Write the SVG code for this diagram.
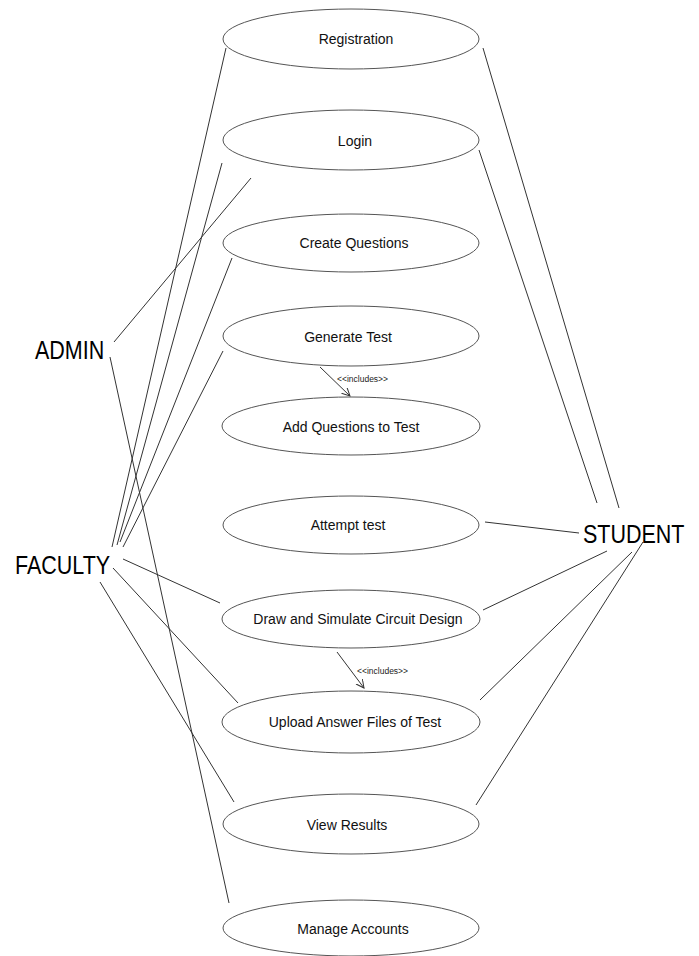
<svg xmlns="http://www.w3.org/2000/svg" width="699" height="956" viewBox="0 0 699 956">
<style>
.uc{fill:#ffffff;stroke:#555;stroke-width:1}
.ul{font-family:"Liberation Sans",Arial,sans-serif;font-size:14px;fill:#111;text-anchor:middle}
.act{font-family:"Liberation Sans",Arial,sans-serif;font-size:21.5px;fill:#000}
.ln{stroke:#333;stroke-width:1;fill:none}
.inc{font-family:"Liberation Sans",Arial,sans-serif;font-size:8.5px;fill:#222}
</style>
<defs>
<marker id="open" markerWidth="10" markerHeight="10" refX="8" refY="4" orient="auto" markerUnits="userSpaceOnUse">
<path d="M0,0 L8,4 L0,8" fill="none" stroke="#333" stroke-width="1"/>
</marker>
</defs>
<rect width="699" height="956" fill="#ffffff"/>
<g id="connectors">
<line class="ln" x1="114" y1="342" x2="251" y2="178"/>
<line class="ln" x1="110" y1="357" x2="229" y2="903"/>
<line class="ln" x1="112" y1="547" x2="226" y2="48"/>
<line class="ln" x1="117" y1="545" x2="222" y2="163"/>
<line class="ln" x1="120" y1="542" x2="232" y2="258"/>
<line class="ln" x1="123" y1="547" x2="223" y2="351"/>
<line class="ln" x1="123" y1="559" x2="220" y2="603"/>
<line class="ln" x1="113" y1="568" x2="238" y2="703"/>
<line class="ln" x1="100" y1="582" x2="234" y2="802"/>
<line class="ln" x1="619" y1="508" x2="483" y2="48"/>
<line class="ln" x1="597" y1="503" x2="479" y2="150"/>
<line class="ln" x1="579" y1="533" x2="485" y2="522"/>
<line class="ln" x1="607" y1="551" x2="483" y2="610"/>
<line class="ln" x1="632" y1="552" x2="480" y2="700"/>
<line class="ln" x1="643" y1="542" x2="476" y2="805"/>
<line class="ln" x1="320" y1="367" x2="350" y2="396" marker-end="url(#open)"/>
<text class="inc" x="337" y="382">&lt;&lt;includes&gt;&gt;</text>
<line class="ln" x1="337" y1="652" x2="364" y2="688" marker-end="url(#open)"/>
<text class="inc" x="357" y="674">&lt;&lt;includes&gt;&gt;</text>
</g>
<g id="registration"><ellipse class="uc" cx="351" cy="39" rx="128" ry="30"/><text class="ul" x="356" y="44">Registration</text></g>
<g id="login"><ellipse class="uc" cx="351" cy="140" rx="128" ry="30"/><text class="ul" x="355" y="146">Login</text></g>
<g id="create-questions"><ellipse class="uc" cx="351" cy="243" rx="128" ry="29"/><text class="ul" x="354" y="248">Create Questions</text></g>
<g id="generate-test"><ellipse class="uc" cx="351" cy="336" rx="128" ry="30"/><text class="ul" x="348" y="342">Generate Test</text></g>
<g id="add-questions"><ellipse class="uc" cx="351" cy="426" rx="129" ry="29"/><text class="ul" x="351" y="432">Add Questions to Test</text></g>
<g id="attempt-test"><ellipse class="uc" cx="351" cy="525" rx="128" ry="29"/><text class="ul" x="348" y="530">Attempt test</text></g>
<g id="draw-simulate"><ellipse class="uc" cx="351" cy="619" rx="129" ry="29"/><text class="ul" x="358" y="624">Draw and Simulate Circuit Design</text></g>
<g id="upload-answer"><ellipse class="uc" cx="351" cy="722" rx="129" ry="31"/><text class="ul" x="355" y="727">Upload Answer Files of Test</text></g>
<g id="view-results"><ellipse class="uc" cx="351" cy="824" rx="128" ry="30"/><text class="ul" x="347" y="830">View Results</text></g>
<g id="manage-accounts"><ellipse class="uc" cx="351" cy="928" rx="128" ry="28"/><text class="ul" x="353" y="934">Manage Accounts</text></g>
<g id="admin"><text class="act" transform="translate(35,359) scale(1,1.23)" x="0" y="0">ADMIN</text></g>
<g id="faculty"><text class="act" transform="translate(15,574) scale(1,1.23)" x="0" y="0">FACULTY</text></g>
<g id="student"><text class="act" transform="translate(583,543) scale(1,1.23)" x="0" y="0">STUDENT</text></g>
</svg>
